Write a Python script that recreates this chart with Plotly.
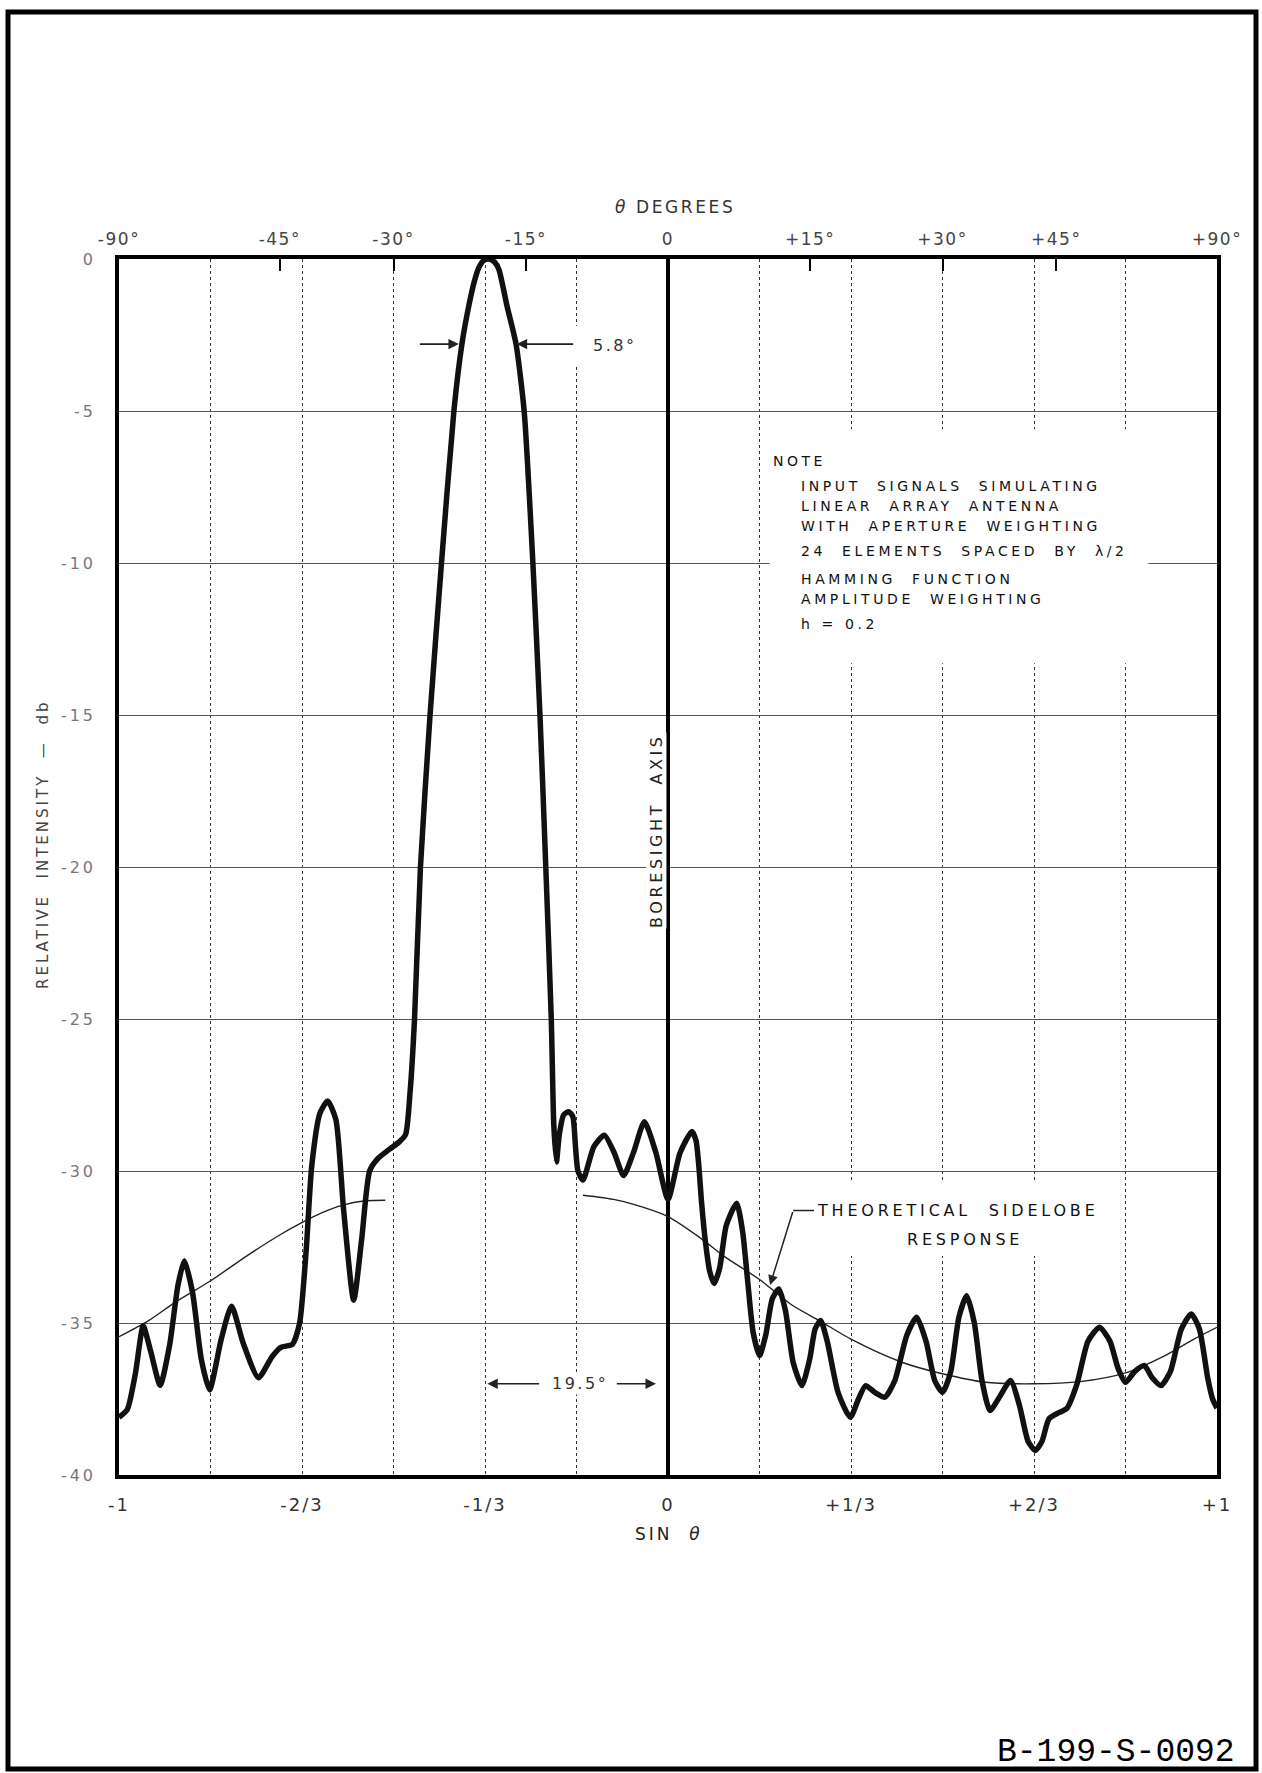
import numpy as np
import plotly.graph_objects as go

# ---------------- data ----------------
# measured antenna pattern: sin(theta) vs relative intensity (dB)
sin_meas = [-1.000, -0.985, -0.970, -0.956, -0.942, -0.925, -0.908, -0.8925, -0.881, -0.866,
            -0.850, -0.835, -0.814, -0.795, -0.774, -0.746, -0.721, -0.705, -0.684, -0.671,
            -0.659, -0.649, -0.634, -0.620, -0.605, -0.591, -0.5725, -0.558, -0.5435, -0.529,
            -0.507, -0.490, -0.478, -0.4698, -0.4617, -0.4509, -0.4334, -0.4126, -0.390, -0.3754,
            -0.3628, -0.3534, -0.345, -0.336, -0.326, -0.316, -0.3079, -0.2933, -0.2768, -0.262,
            -0.2461, -0.2332, -0.2226, -0.2126, -0.2080, -0.2032, -0.198, -0.190, -0.181, -0.1735,
            -0.1685, -0.164, -0.155, -0.135, -0.116, -0.098, -0.081, -0.063, -0.043, -0.022,
            0.000, 0.022, 0.0435, 0.051, 0.056, 0.061, 0.068, 0.076, 0.084, 0.094,
            0.106, 0.125, 0.136, 0.145, 0.155, 0.1667, 0.178, 0.190, 0.202, 0.214,
            0.228, 0.2438, 0.258, 0.268, 0.278, 0.290, 0.310, 0.332, 0.347, 0.360,
            0.378, 0.395, 0.413, 0.435, 0.453, 0.470, 0.486, 0.500, 0.515, 0.530,
            0.544, 0.558, 0.572, 0.5865, 0.605, 0.624, 0.640, 0.656, 0.669, 0.681,
            0.694, 0.712, 0.726, 0.745, 0.765, 0.786, 0.805, 0.820, 0.8333, 0.850,
            0.8674, 0.882, 0.898, 0.915, 0.935, 0.953, 0.968, 0.983, 0.992, 1.000]
db_meas = [-38.10, -37.85, -36.65, -35.10, -35.95, -37.05, -35.75, -33.75, -32.95, -34.00,
           -36.20, -37.20, -35.55, -34.45, -35.65, -36.80, -36.10, -35.80, -35.70, -35.00,
           -32.60, -29.85, -28.10, -27.70, -28.30, -31.25, -34.25, -32.25, -30.00, -29.60,
           -29.28, -29.05, -28.80, -27.40, -25.00, -20.00, -15.00, -10.00, -5.00, -2.80,
           -1.54, -0.78, -0.30, -0.05, 0.00, -0.10, -0.35, -1.54, -2.80, -5.00,
           -10.00, -15.00, -20.00, -25.00, -28.50, -29.70, -28.80, -28.15, -28.05, -28.20,
           -29.20, -30.00, -30.30, -29.20, -28.82, -29.40, -30.15, -29.40, -28.38, -29.40,
           -30.93, -29.40, -28.70, -29.00, -29.80, -31.00, -32.30, -33.30, -33.70, -33.20,
           -31.80, -31.06, -32.00, -33.60, -35.30, -36.07, -35.40, -34.20, -33.88, -34.60,
           -36.30, -37.06, -36.20, -35.20, -34.92, -35.60, -37.30, -38.10, -37.50, -37.06,
           -37.30, -37.44, -36.90, -35.40, -34.81, -35.60, -36.90, -37.28, -36.60, -34.80,
           -34.10, -35.00, -36.90, -37.88, -37.40, -36.89, -37.70, -38.90, -39.19, -38.90,
           -38.15, -37.95, -37.82, -37.00, -35.60, -35.14, -35.60, -36.50, -36.95, -36.60,
           -36.40, -36.80, -37.06, -36.60, -35.20, -34.70, -35.20, -36.80, -37.50, -37.80]

# theoretical sidelobe response (thin line), two branches
theo_left_x = [-1.000, -0.946, -0.898, -0.833, -0.767, -0.705, -0.667, -0.630, -0.594, -0.551, -0.515]
theo_left_y = [-35.45, -34.92, -34.32, -33.61, -32.79, -32.08, -31.70, -31.37, -31.13, -30.98, -30.96]
theo_right_x = [-0.155, -0.095, -0.046, 0.000, 0.058, 0.101, 0.1667, 0.225, 0.2765, 0.3333,
                0.426, 0.500, 0.578, 0.6667, 0.750, 0.8333, 0.9053, 0.958, 1.000]
theo_right_y = [-30.80, -30.95, -31.19, -31.50, -32.19, -32.79, -33.57, -34.40, -34.93, -35.53,
                -36.29, -36.67, -36.95, -37.00, -36.93, -36.64, -36.07, -35.53, -35.14]

# axis ticks
sin_grid = [-1, -5/6, -2/3, -1/2, -1/3, -1/6, 0, 1/6, 1/3, 1/2, 2/3, 5/6, 1]
sin_text = ["-1", "", "-2/3", "", "-1/3", "", "0", "", "+1/3", "", "+2/3", "", "+1"]
db_ticks = [0, -5, -10, -15, -20, -25, -30, -35, -40]
db_text = ["0", "-5", "-10", "-15", "-20", "-25", "-30", "-35", "-40"]
deg_ticks = [-90, -45, -30, -15, 0, 15, 30, 45, 90]
deg_text = ["-90°", "-45°", "-30°", "-15°", "0", "+15°", "+30°", "+45°", "+90°"]

note_head = "NOTE"
note_lines = ["INPUT  SIGNALS  SIMULATING", "LINEAR  ARRAY  ANTENNA", "WITH  APERTURE  WEIGHTING",
              "24  ELEMENTS  SPACED  BY  λ/2", "HAMMING  FUNCTION", "AMPLITUDE  WEIGHTING", "h = 0.2"]
note_y = [-7.48, -8.13, -8.78, -9.60, -10.52, -11.18, -12.0]

# ---------------- figure ----------------
FONT = "DejaVu Sans"
W, H = 1262, 1773
L, R, T, B = 119, 45, 259, 298
PW, PH = W - L - R, H - T - B


def px2paper(px, py):
    return (px - L) / PW, (H - B - py) / PH


def sp(text, ls):
    return f"<span style='letter-spacing:{ls}px'>{text}</span>"


fig = go.Figure()

fig.add_trace(go.Scatter(x=theo_left_x, y=theo_left_y, mode="lines",
                         line=dict(color="#222", width=1.4, shape="spline", smoothing=0.8),
                         hoverinfo="skip", showlegend=False))
fig.add_trace(go.Scatter(x=theo_right_x, y=theo_right_y, mode="lines",
                         line=dict(color="#222", width=1.4, shape="spline", smoothing=0.8),
                         hoverinfo="skip", showlegend=False))
fig.add_trace(go.Scatter(x=sin_meas, y=db_meas, mode="lines",
                         line=dict(color="#111", width=5.5, shape="spline", smoothing=0.6),
                         hoverinfo="skip", showlegend=False))
# dummy trace for the top (degrees) axis
fig.add_trace(go.Scatter(x=[-1, 1], y=[None, None], xaxis="x2", mode="lines",
                         hoverinfo="skip", showlegend=False))

fig.update_layout(
    width=W, height=H,
    margin=dict(l=L, r=R, t=T, b=B),
    paper_bgcolor="white", plot_bgcolor="white",
    font=dict(family=FONT, color="#222"),
    xaxis=dict(range=[-1, 1], tickvals=sin_grid, ticktext=[sp(t, 2) for t in sin_text], ticks="",
               showgrid=True, gridcolor="#333", gridwidth=1.2, griddash="dot",
               zeroline=True, zerolinecolor="#000", zerolinewidth=3.5,
               showline=True, linecolor="#000", linewidth=3.5, mirror=True,
               tickfont=dict(size=18, color="#333"), ticklabelstandoff=11),
    xaxis2=dict(range=[-1, 1], overlaying="x", side="top",
                tickvals=list(np.sin(np.radians(deg_ticks))), ticktext=[sp(t, 1.5) for t in deg_text],
                ticks="inside", ticklen=12, tickwidth=1.5, tickcolor="#000",
                showgrid=False, zeroline=False, showline=False,
                tickfont=dict(size=17, color="#444"), ticklabelstandoff=10),
    yaxis=dict(range=[-40, 0], tickvals=db_ticks, ticktext=[sp(t, 3) for t in db_text], ticks="",
               showgrid=True, gridcolor="#555", gridwidth=1.4,
               zeroline=False, showline=True, linecolor="#000", linewidth=3.5, mirror=True,
               tickfont=dict(size=16, color="#777"), ticklabelstandoff=16),
)

shapes = []
# white patch behind note (interrupts gridlines)
shapes.append(dict(type="rect", xref="x", yref="y", x0=0.185, x1=0.875, y0=-13.3, y1=-5.6,
                   fillcolor="white", line=dict(width=0), layer="between"))
# white patch behind the theoretical label
shapes.append(dict(type="rect", xref="x", yref="y", x0=0.262, x1=0.80, y0=-32.8, y1=-30.3,
                   fillcolor="white", line=dict(width=0), layer="between"))
# gap in -1/6 gridline near 5.8° marker
shapes.append(dict(type="rect", xref="x", yref="y", x0=-0.175, x1=-0.158, y0=-3.5, y1=-2.2,
                   fillcolor="white", line=dict(width=0), layer="between"))
# leader line for theoretical label
shapes.append(dict(type="line", xref="x", yref="y", x0=0.266, y0=-31.3, x1=0.228, y1=-31.3,
                   line=dict(color="#222", width=1.5)))
# page border
bx0, by0 = px2paper(8, 1769)
bx1, by1 = px2paper(1256, 12)
shapes.append(dict(type="rect", xref="paper", yref="paper", x0=bx0, x1=bx1, y0=by0, y1=by1,
                   line=dict(color="#000", width=5), fillcolor="rgba(0,0,0,0)", layer="above"))
fig.update_layout(shapes=shapes)

ann = []


def arrow(xh, yh, xt, yt, w=1.6):
    return dict(x=xh, y=yh, ax=xt, ay=yt, xref="x", yref="y", axref="x", ayref="y",
                text="", showarrow=True, arrowhead=2, arrowsize=1.3, arrowwidth=w,
                arrowcolor="#222")


# 5.8° beamwidth markers
ann.append(arrow(-0.381, -2.8, -0.4547, -2.8))
ann.append(arrow(-0.2756, -2.8, -0.170, -2.8))
ann.append(dict(x=-0.098, y=-2.85, xref="x", yref="y", text=sp("5.8°", 2.5), showarrow=False,
                xanchor="center", yanchor="middle", font=dict(size=16, color="#333")))
# 19.5° markers
ann.append(arrow(-0.329, -37.0, -0.232, -37.0))
ann.append(arrow(-0.022, -37.0, -0.096, -37.0))
ann.append(dict(x=-0.161, y=-37.0, xref="x", yref="y", text=sp("19.5°", 2.5), showarrow=False,
                xanchor="center", yanchor="middle",
                bgcolor="white", borderpad=1, font=dict(size=16, color="#333")))
# boresight axis label
ann.append(dict(x=-0.021, y=-18.8, xref="x", yref="y", text=sp("BORESIGHT  AXIS", 3.6),
                xanchor="center", yanchor="middle",
                textangle=-90, showarrow=False, bgcolor="white", borderpad=0,
                font=dict(size=16, color="#222")))
# theoretical sidelobe label
ann.append(dict(x=0.268, y=-31.3, xref="x", yref="y", xanchor="left", yanchor="middle",
                text=sp("THEORETICAL  SIDELOBE", 3.8), showarrow=False,
                font=dict(size=16, color="#111")))
ann.append(dict(x=0.541, y=-32.24, xref="x", yref="y", xanchor="center", yanchor="middle",
                text=sp("RESPONSE", 3.8), showarrow=False,
                font=dict(size=16, color="#111")))
ann.append(arrow(0.186, -33.75, 0.228, -31.3, w=1.5))
# note block
ann.append(dict(x=0.1883, y=-6.66, xref="x", yref="y", xanchor="left", yanchor="middle",
                text=sp(note_head, 3.5), showarrow=False, font=dict(size=14, color="#111")))
for t, yv in zip(note_lines, note_y):
    ann.append(dict(x=0.2395, y=yv, xref="x", yref="y", xanchor="left", yanchor="middle",
                    text=sp(t, 3.6), showarrow=False, font=dict(size=14, color="#111")))
# axis titles
x, y = px2paper(675, 207)
ann.append(dict(x=x, y=y, xref="paper", yref="paper", text=sp("<i>θ</i> DEGREES", 2.6),
                xanchor="center", yanchor="middle",
                showarrow=False, font=dict(size=17, color="#333")))
x, y = px2paper(669, 1534)
ann.append(dict(x=x, y=y, xref="paper", yref="paper", text=sp("SIN  <i>θ</i>", 3),
                xanchor="center", yanchor="middle",
                showarrow=False, font=dict(size=17, color="#222")))
x, y = px2paper(43, 845)
ann.append(dict(x=x, y=y, xref="paper", yref="paper", text=sp("RELATIVE  INTENSITY  —  db", 3),
                xanchor="center", yanchor="middle",
                textangle=-90, showarrow=False, font=dict(size=15, color="#444")))
# drawing number
x, y = px2paper(1116, 1752)
ann.append(dict(x=x, y=y, xref="paper", yref="paper", text="B-199-S-0092",
                xanchor="center", yanchor="middle",
                showarrow=False, font=dict(family="Liberation Mono", size=33, color="#000")))
fig.update_layout(annotations=ann)

fig.write_html("out.html")
